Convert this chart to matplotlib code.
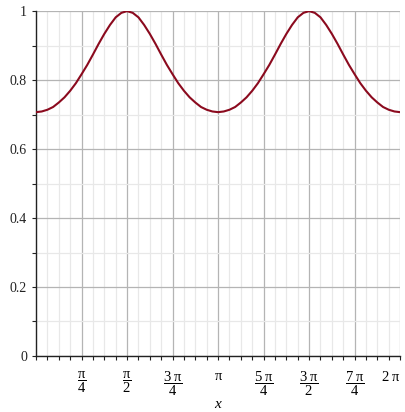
import numpy as np
import matplotlib.pyplot as plt
from matplotlib.ticker import MultipleLocator

plt.rcParams['font.family'] = 'Liberation Serif'
plt.rcParams['mathtext.fontset'] = 'custom'
plt.rcParams['mathtext.rm'] = 'Liberation Serif'
plt.rcParams['mathtext.it'] = 'Liberation Serif:italic'

y_vals = [0.707, 0.709, 0.714, 0.722, 0.735, 0.750, 0.769, 0.791, 0.817,
          0.844, 0.874, 0.905, 0.934, 0.960, 0.982, 0.995, 1.000,
          0.995, 0.982, 0.960, 0.934, 0.905, 0.874, 0.844, 0.817,
          0.791, 0.769, 0.750, 0.735, 0.722, 0.714, 0.709, 0.707,
          0.709, 0.714, 0.722, 0.735, 0.750, 0.769, 0.791, 0.817,
          0.844, 0.874, 0.905, 0.934, 0.960, 0.982, 0.995, 1.000,
          0.995, 0.982, 0.960, 0.934, 0.905, 0.874, 0.844, 0.817,
          0.791, 0.769, 0.750, 0.735, 0.722, 0.714, 0.709, 0.707]
x_vals = np.linspace(0, 2 * np.pi, len(y_vals))

tick_pos = [np.pi / 4 * k for k in range(1, 9)]
tick_labels = [r'$\dfrac{\mathrm{\pi}}{4}$', r'$\dfrac{\mathrm{\pi}}{2}$',
               r'$\dfrac{3\;\mathrm{\pi}}{4}$', r'$\mathrm{\pi}$',
               r'$\dfrac{5\;\mathrm{\pi}}{4}$', r'$\dfrac{3\;\mathrm{\pi}}{2}$',
               r'$\dfrac{7\;\mathrm{\pi}}{4}$', r'$2\;\mathrm{\pi}$']
y_ticks = [0, 0.2, 0.4, 0.6, 0.8, 1]
y_labels = ['0', '0.2', '0.4', '0.6', '0.8', '1']

fig = plt.figure(figsize=(4.05, 4.12), dpi=100)
ax = fig.add_axes([0.089, 0.136, 0.899, 0.837])

ax.plot(x_vals, y_vals, color='#8b0a1e', lw=1.5, zorder=3)

ax.set_xlim(0, 2 * np.pi)
ax.set_ylim(0, 1)
ax.set_xticks(tick_pos)
ax.set_xticklabels(tick_labels, fontsize=10.5, va='top')
ax.xaxis.set_minor_locator(MultipleLocator(np.pi / 16))
ax.set_yticks(y_ticks)
ax.set_yticklabels(y_labels, fontsize=10, color='#222222')
ax.yaxis.set_minor_locator(MultipleLocator(0.1))

# keep the last label inside the picture
ax.get_xticklabels()[-1].set_horizontalalignment('right')

ax.grid(which='major', color='#b4b4b4', lw=0.9)
ax.grid(which='minor', color='#e8e8e8', lw=0.9)
ax.set_axisbelow(True)

ax.tick_params(which='both', direction='out', length=3, width=0.8, color='#222222')
ax.tick_params(axis='x', which='major', pad=7)
for side in ['top', 'right']:
    ax.spines[side].set_visible(False)
for side in ['left', 'bottom']:
    ax.spines[side].set_color('#222222')
    ax.spines[side].set_linewidth(1.0)

ax.set_xlabel('$x$', fontsize=11, labelpad=0)

fig.savefig('out.png', dpi=100)
